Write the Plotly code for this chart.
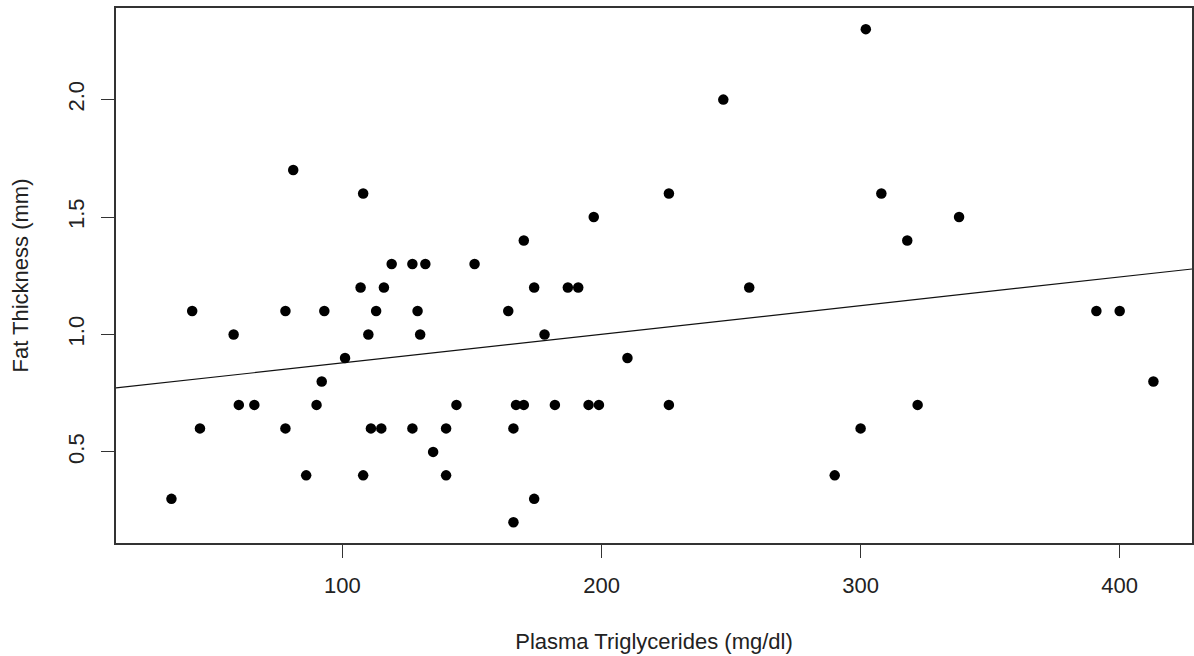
import numpy as np
import plotly.graph_objects as go

# Plasma triglycerides (mg/dl) and fat thickness (mm)
triglycerides = [34, 42, 45, 58, 60, 66, 78, 78, 81, 86, 90, 92, 93, 101, 107,
                 108, 108, 110, 111, 113, 115, 116, 119, 127, 127, 129, 130, 132,
                 135, 140, 140, 144, 151, 164, 166, 166, 167, 170, 170, 174, 174,
                 178, 182, 187, 191, 195, 197, 199, 210, 226, 226, 247, 257, 290,
                 300, 302, 308, 318, 322, 338, 391, 400, 413]
fat_thickness = [0.3, 1.1, 0.6, 1.0, 0.7, 0.7, 0.6, 1.1, 1.7, 0.4, 0.7, 0.8, 1.1, 0.9, 1.2,
                 1.6, 0.4, 1.0, 0.6, 1.1, 0.6, 1.2, 1.3, 1.3, 0.6, 1.1, 1.0, 1.3,
                 0.5, 0.6, 0.4, 0.7, 1.3, 1.1, 0.6, 0.2, 0.7, 1.4, 0.7, 1.2, 0.3,
                 1.0, 0.7, 1.2, 1.2, 0.7, 1.5, 0.7, 0.9, 1.6, 0.7, 2.0, 1.2, 0.4,
                 0.6, 2.3, 1.6, 1.4, 0.7, 1.5, 1.1, 1.1, 0.8]

x_ticks = [100, 200, 300, 400]
y_ticks = [0.5, 1.0, 1.5, 2.0]
y_tick_text = ["0.5", "1.0", "1.5", "2.0"]

x_title = "Plasma Triglycerides (mg/dl)"
y_title = "Fat Thickness (mm)"

x_range = [12.6, 427.9]
y_range = [0.112, 2.39]

xa = np.array(triglycerides, dtype=float)
ya = np.array(fat_thickness, dtype=float)
slope, intercept = np.polyfit(xa, ya, 1)
line_x = np.array(x_range)
line_y = intercept + slope * line_x

FONT = "Liberation Sans, Arial, sans-serif"
TXT = "#222222"

fig = go.Figure()
fig.add_trace(go.Scatter(
    x=line_x, y=line_y, mode="lines",
    line=dict(color="#111111", width=1.2),
    hoverinfo="skip", showlegend=False,
))
fig.add_trace(go.Scatter(
    x=triglycerides, y=fat_thickness, mode="markers",
    marker=dict(color="black", size=10.5, line=dict(width=0)),
    showlegend=False,
))

fig.update_layout(
    width=1194, height=656,
    margin=dict(l=116, r=2, t=8, b=113, autoexpand=False),
    paper_bgcolor="white", plot_bgcolor="white",
    font=dict(family=FONT, size=22, color=TXT),
    showlegend=False,
)
fig.update_xaxes(
    range=x_range, tickmode="array", tickvals=x_ticks,
    ticks="outside", ticklen=13, tickwidth=1.3, tickcolor="#333333",
    showline=True, linecolor="#333333", linewidth=1.5, mirror=True,
    showgrid=False, zeroline=False,
    tickfont=dict(family=FONT, size=22, color=TXT),
    ticklabelstandoff=9,
    title=dict(text=x_title, font=dict(family=FONT, size=22, color=TXT), standoff=36),
)
fig.update_yaxes(
    range=y_range, tickmode="array", tickvals=y_ticks, ticktext=y_tick_text,
    tickangle=-90,
    ticks="outside", ticklen=13, tickwidth=1.3, tickcolor="#333333",
    showline=True, linecolor="#333333", linewidth=1.5, mirror=True,
    showgrid=False, zeroline=False,
    tickfont=dict(family=FONT, size=22, color=TXT),
    ticklabelstandoff=8,
    title=dict(text=y_title, font=dict(family=FONT, size=22, color=TXT), standoff=30),
)

fig.write_html(
    "out.html",
    config={"displayModeBar": False},
    post_script="document.body.style.margin='0px';document.body.style.overflow='hidden';",
)
